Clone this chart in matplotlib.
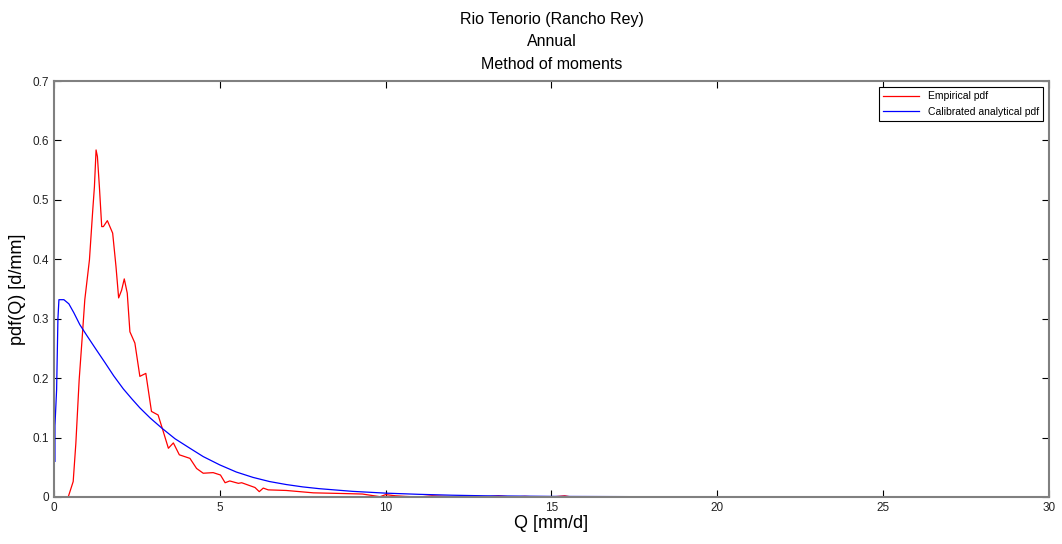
import numpy as np
import matplotlib
matplotlib.use("Agg")
import matplotlib.pyplot as plt

plt.rcParams["font.family"] = ["Liberation Sans", "DejaVu Sans"]

# ---------------------------------------------------------------------------
# Data
# ---------------------------------------------------------------------------
emp_q = [0.0, 0.43, 0.58, 0.66, 0.76, 0.86, 0.93, 1.07, 1.17, 1.22, 1.27, 1.31,
         1.37, 1.44, 1.49, 1.61, 1.77, 1.87, 1.95, 2.04, 2.12, 2.21, 2.29, 2.44,
         2.59, 2.77, 2.94, 3.14, 3.28, 3.45, 3.60, 3.78, 4.10, 4.30, 4.50, 4.80,
         5.02, 5.16, 5.30, 5.56, 5.66, 6.06, 6.19, 6.31, 6.46, 7.0, 7.82, 8.6,
         9.3, 9.83, 10.0, 10.3, 10.6, 11.0, 11.4, 11.8, 12.2, 12.6, 13.0, 13.4,
         13.8, 14.2, 14.6, 15.0, 15.4, 15.6, 16.0, 30.0]
emp_pdf = [0.0, 0.0, 0.026, 0.09, 0.197, 0.275, 0.332, 0.399, 0.483, 0.522,
           0.584, 0.573, 0.522, 0.455, 0.455, 0.465, 0.444, 0.388, 0.335, 0.348,
           0.367, 0.343, 0.278, 0.259, 0.203, 0.208, 0.144, 0.138, 0.113, 0.082,
           0.091, 0.071, 0.065, 0.048, 0.040, 0.041, 0.037, 0.024, 0.027, 0.023,
           0.024, 0.016, 0.009, 0.015, 0.012, 0.011, 0.007, 0.006, 0.005, 0.0005,
           0.004, 0.002, 0.001, 0.0, 0.002, 0.001, 0.0, 0.002, 0.0, 0.002, 0.0,
           0.001, 0.0, 0.0, 0.002, 0.0, 0.0, 0.0]

ana_q = [0.03, 0.03, 0.08, 0.12, 0.15, 0.30, 0.45, 0.60, 0.78, 1.0, 1.25,
         1.54, 1.8, 2.09, 2.35, 2.59, 2.9, 3.25, 3.65, 4.1, 4.5, 5.0, 5.5, 6.0,
         6.5, 7.0, 7.5, 8.0, 9.0, 10.0, 11.0, 12.0, 13.0, 15.0, 20.0, 30.0]
ana_pdf = [0.06, 0.12, 0.18, 0.30, 0.332, 0.332, 0.325, 0.31, 0.29, 0.271,
           0.250, 0.226, 0.204, 0.182, 0.165, 0.150, 0.133, 0.116, 0.098, 0.082,
           0.068, 0.054, 0.042, 0.033, 0.026, 0.021, 0.017, 0.014, 0.0095,
           0.0065, 0.0045, 0.003, 0.002, 0.001, 0.0002, 0.0]

title_lines = ["Rio Tenorio (Rancho Rey)", "Annual", "Method of moments"]

# ---------------------------------------------------------------------------
# Plot
# ---------------------------------------------------------------------------
fig = plt.figure(figsize=(10.62, 5.44), dpi=100)
ax = fig.add_axes([0.0508, 0.0864, 0.937, 0.7647])

ax.plot(emp_q, emp_pdf, color="red", linewidth=0.9, label="Empirical pdf")
ax.plot(ana_q, ana_pdf, color="blue", linewidth=0.9,
        label="Calibrated analytical pdf")

ax.set_xlim(0, 30)
ax.set_ylim(0, 0.7)
ax.set_xticks(np.arange(0, 31, 5))
ax.set_yticks(np.arange(0, 0.71, 0.1))
ax.set_yticklabels(["0", "0.1", "0.2", "0.3", "0.4", "0.5", "0.6", "0.7"])
ax.tick_params(direction="in", top=True, right=True, labelsize=8.5,
               length=5, width=0.8, color="black", labelcolor="#222222")
for s in ax.spines.values():
    s.set_color("#808080")
    s.set_linewidth(1.5)

ax.set_xlabel("Q [mm/d]", fontsize=13, labelpad=1)
ax.set_ylabel("pdf(Q) [d/mm]", fontsize=13, labelpad=5)
ax.set_title("\n".join(title_lines), fontsize=11.5, linespacing=1.6, pad=9)

leg = ax.legend(loc="upper right", fontsize=7.5, fancybox=False,
                framealpha=1, edgecolor="black", handlelength=3.5,
                borderaxespad=0.6)
leg.get_frame().set_linewidth(0.8)

plt.savefig("out.png", dpi=100)
